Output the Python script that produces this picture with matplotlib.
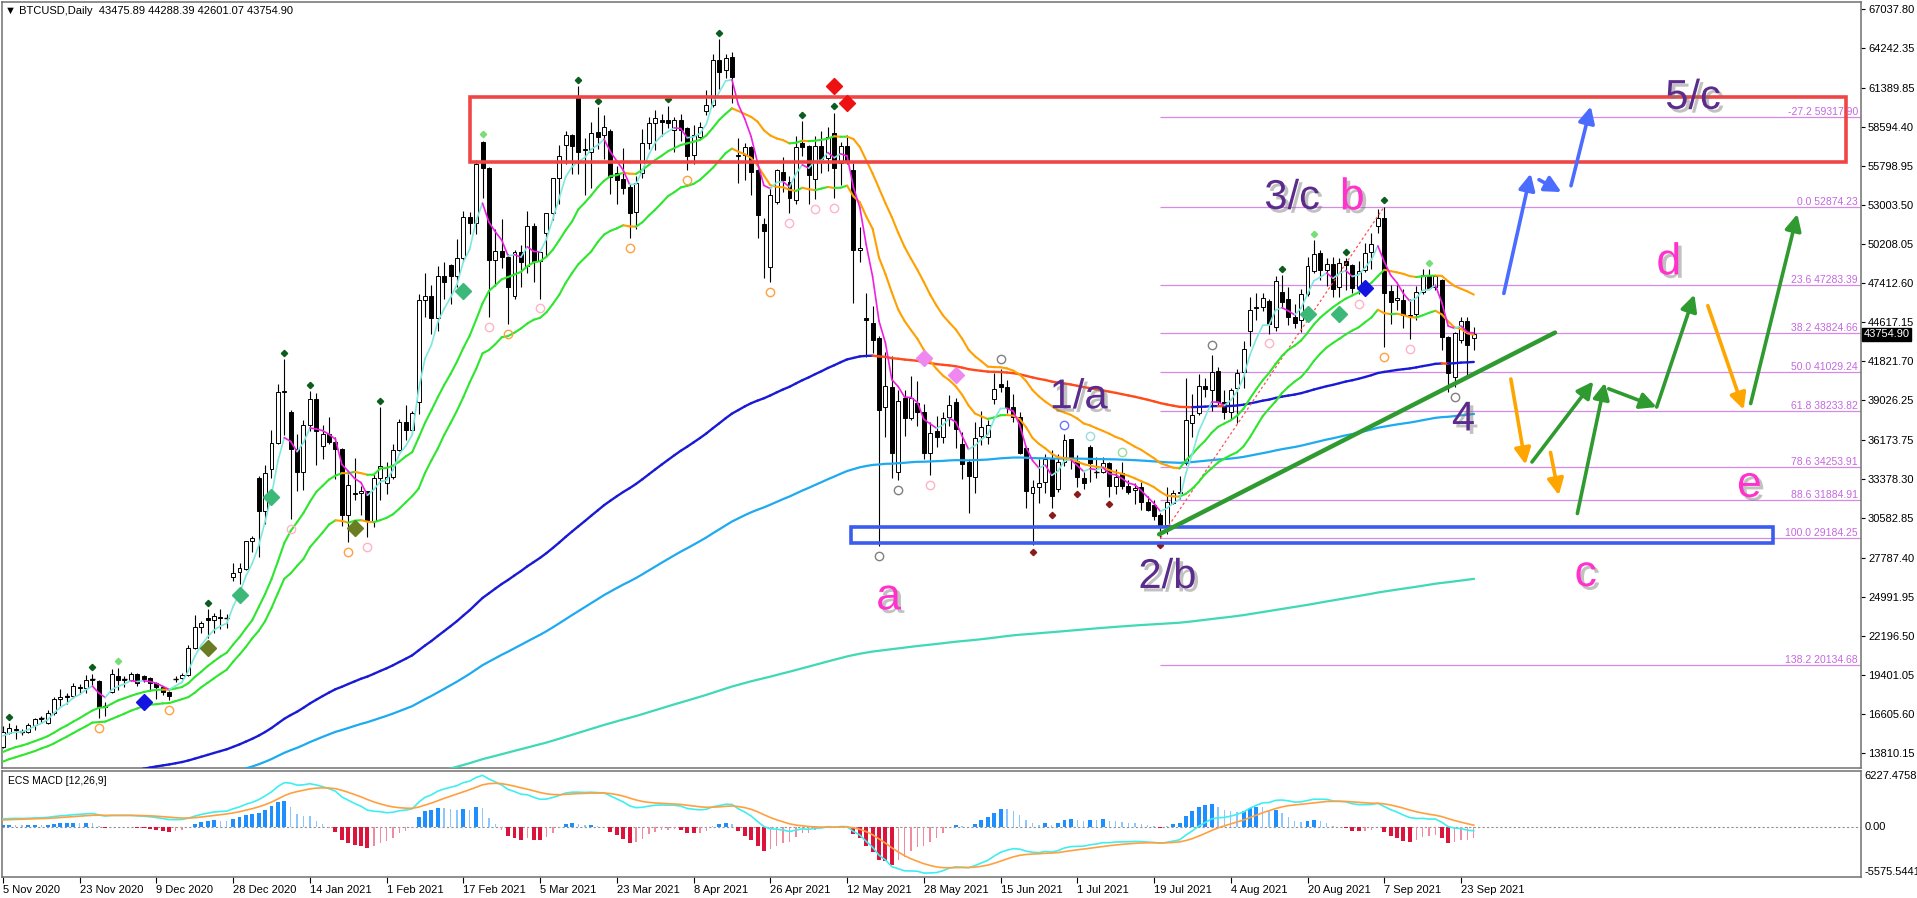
import numpy as np
import pandas as pd
import matplotlib
matplotlib.use('Agg')
import matplotlib.pyplot as plt
import matplotlib.patheffects as pe
import matplotlib.transforms as mtransforms
from matplotlib.collections import LineCollection
from matplotlib.patches import Rectangle

plt.rcParams['font.family'] = ['Liberation Sans', 'DejaVu Sans']

# daily bars (weekdays, broker feed), prices in thousands of USD
opens = [
    14.25, 15.25, 15.55, 15.40, 15.35, 15.80, 16.25, 15.95, 16.70, 17.65, 17.85, 17.90, 18.55, 18.45, 19.05, 18.95, 17.10,
    18.15, 19.35, 19.05, 19.05, 19.45, 19.30, 19.15, 18.85, 18.55, 18.15, 19.10, 19.15, 19.40, 21.30, 22.80, 23.45, 23.30,
    23.55, 23.45, 26.40, 26.75, 27.00, 28.95,
    33.50, 31.10, 34.10, 36.00, 39.60, 38.20, 35.55, 33.90, 37.30, 39.15, 35.79, 36.63, 36.07, 35.55, 30.83, 32.30, 32.40,
    32.56, 30.43, 33.47,
    33.11, 33.54, 35.51, 37.47, 36.93, 38.90, 46.20, 46.48, 44.92, 47.91, 48.72, 47.95, 49.20, 52.15, 51.68, 57.49, 55.65,
    49.05, 49.70, 49.30,
    46.50, 49.63, 48.60, 51.50, 49.00, 51.00, 52.40, 54.90, 57.30, 58.00, 60.70, 56.90, 56.80, 58.20, 58.00, 58.30, 55.30,
    54.85, 54.27, 52.48, 55.26, 57.40, 58.85,
    59.10, 59.10, 58.35, 59.05, 58.50, 56.57, 57.86, 59.70, 60.14, 63.36, 62.64, 63.57, 56.50, 56.57, 57.14, 55.50, 51.64,
    48.56, 53.21, 55.35, 54.64, 53.35,
    57.43, 57.20, 54.85, 57.20, 56.35, 58.14, 56.00, 57.20, 55.50, 49.78, 44.90, 44.55, 43.48, 38.54, 40.00, 33.90, 39.19,
    37.76, 38.83, 38.19, 35.26,
    36.83, 36.40, 37.83, 38.90, 35.90, 34.61, 33.54, 36.47, 36.40, 39.12, 40.20, 40.00, 38.54, 37.83, 35.61, 32.40, 32.83,
    33.18, 34.83, 32.69, 34.61, 36.26,
    34.68, 33.47, 35.68, 33.90, 33.90, 34.54, 32.90, 33.83, 32.90, 32.60, 32.82, 31.75, 31.54, 30.82, 30.10, 31.68, 32.39,
    34.54, 37.40, 38.12, 40.05, 39.75,
    41.12, 38.90, 38.19, 39.90, 41.05, 44.00, 45.60, 45.70, 46.12, 44.27, 46.76, 46.26, 44.97, 44.76, 46.62, 48.26, 49.55,
    48.33, 48.76, 47.12, 48.98, 48.69,
    47.12, 48.33, 49.62, 51.48, 52.05, 46.83, 46.20, 46.19, 45.10, 45.19, 46.76, 47.98, 47.12, 47.62, 43.55, 40.70, 43.34,
    44.70, 43.47589,
]
highs = [
    15.75, 15.96, 15.83, 15.50, 15.95, 16.34, 16.48, 16.88, 17.80, 18.39, 18.12, 18.80, 18.77, 19.41, 19.48, 19.00, 17.45,
    19.85, 19.92, 19.32, 19.58, 19.51, 19.42, 19.28, 18.90, 18.56, 18.27, 19.30, 19.56, 21.54, 23.70, 23.27, 24.10, 23.82,
    24.08, 23.78, 27.40, 27.38, 28.94, 29.30,
    33.60, 34.44, 36.88, 40.18, 41.95, 38.35, 36.60, 37.60, 39.70, 39.58, 37.30, 37.85, 36.41, 35.60, 33.79, 34.88, 32.90,
    32.56, 33.78, 38.53,
    34.64, 35.90, 37.66, 38.70, 38.30, 46.60, 48.10, 47.30, 48.60, 48.90, 48.80, 50.55, 52.60, 52.50, 56.20, 57.60, 55.70,
    51.30, 52.00, 49.50,
    49.80, 50.10, 52.60, 51.70, 49.80, 52.40, 54.90, 57.30, 58.30, 58.10, 61.50, 57.80, 58.90, 60.00, 59.40, 58.40, 55.80,
    57.10, 54.50, 55.10, 58.40, 59.30, 59.80,
    59.50, 60.10, 59.30, 59.50, 58.60, 58.70, 58.90, 61.20, 63.80, 64.85, 63.80, 63.90, 57.80, 57.40, 57.20, 55.60, 52.10,
    54.30, 55.60, 56.40, 55.10, 57.90,
    59.00, 57.30, 57.90, 58.30, 58.60, 59.60, 57.50, 58.00, 56.00, 51.40, 46.70, 45.80, 43.60, 42.50, 42.20, 39.80, 39.80,
    40.80, 40.40, 38.80, 37.50,
    37.90, 38.20, 39.40, 39.20, 36.80, 34.80, 37.50, 38.30, 37.60, 41.00, 41.30, 40.50, 39.50, 38.20, 35.70, 33.30, 34.80,
    35.20, 35.50, 35.20, 36.60, 36.30,
    35.10, 33.90, 35.80, 35.00, 35.00, 34.60, 34.10, 34.60, 33.30, 33.10, 33.20, 32.20, 31.90, 31.00, 32.80, 32.60, 33.60,
    40.62, 39.50, 40.90, 40.60, 42.30,
    41.40, 39.80, 39.90, 41.30, 43.30, 46.40, 46.70, 46.70, 46.30, 47.90, 48.00, 47.10, 45.90, 47.00, 49.30, 50.50, 49.80,
    49.20, 49.30, 49.20, 49.20, 48.80,
    49.00, 50.30, 51.00, 52.70, 52.87423, 47.30, 47.30, 47.00, 46.30, 47.20, 48.40, 48.40, 48.00, 47.70, 43.60, 43.90, 45.00,
    45.00, 44.28839,
]
lows = [
    14.15, 15.20, 14.85, 15.10, 15.28, 15.44, 15.99, 15.88, 16.56, 17.21, 17.35, 17.76, 18.00, 18.13, 18.60, 16.33, 16.45,
    18.10, 18.33, 18.53, 18.93, 18.62, 18.90, 18.26, 17.65, 17.93, 17.61, 18.90, 19.08, 19.29, 21.24, 22.36, 22.02, 22.38,
    22.67, 22.76, 26.10, 25.93, 26.90, 28.21,
    27.80, 30.22, 33.50, 35.90, 36.57, 30.55, 32.53, 32.60, 36.82, 34.40, 34.85, 35.90, 33.40, 30.07, 28.90, 31.90, 30.84,
    29.24, 29.98, 31.90,
    32.30, 33.42, 35.38, 36.16, 36.60, 38.05, 45.00, 43.80, 44.00, 46.30, 45.90, 47.10, 49.00, 50.90, 50.90, 53.50, 45.00,
    47.20, 48.50, 44.50,
    46.30, 47.10, 48.10, 47.50, 46.30, 49.30, 51.90, 53.10, 55.90, 55.20, 55.20, 53.70, 54.20, 57.00, 56.30, 53.80, 53.10,
    53.80, 50.60, 51.30, 54.90, 57.00, 56.90,
    57.90, 58.50, 56.80, 57.60, 55.50, 55.90, 57.70, 59.40, 60.00, 61.30, 62.10, 60.30, 54.60, 54.80, 53.70, 50.60, 47.80,
    47.50, 53.10, 53.90, 52.40, 53.10,
    56.50, 53.10, 53.40, 55.30, 55.40, 53.50, 54.40, 55.90, 46.00, 48.90, 42.10, 42.40, 28.60, 36.40, 33.50, 33.30, 36.50,
    37.60, 37.20, 34.80, 33.70,
    35.70, 36.00, 37.20, 35.60, 33.40, 31.00, 32.40, 35.80, 35.90, 38.80, 39.60, 38.10, 37.50, 35.20, 31.30, 28.70, 31.70,
    32.40, 31.30, 32.50, 34.30, 34.10,
    32.80, 32.70, 33.20, 33.50, 33.80, 32.10, 32.30, 32.70, 32.30, 31.60, 31.20, 31.10, 30.50, 29.18425, 29.50, 31.60, 32.00,
    34.40, 36.40, 38.00, 39.30, 38.30,
    38.70, 37.70, 37.60, 37.40, 39.90, 42.90, 44.80, 45.40, 43.80, 44.00, 45.60, 44.40, 44.20, 43.90, 46.50, 48.10, 47.60,
    47.20, 46.40, 46.40, 46.90, 46.70,
    46.60, 48.20, 48.40, 51.00, 42.84, 44.50, 45.50, 44.20, 43.40, 44.80, 46.60, 47.10, 46.90, 42.60, 39.60, 40.00, 43.10,
    40.69, 42.60107,
]
closes = [
    15.30, 15.62, 15.45, 15.35, 15.85, 16.25, 16.30, 16.70, 17.70, 17.85, 17.90, 18.60, 18.45, 19.05, 19.10, 17.10, 17.15,
    19.45, 19.05, 19.10, 19.45, 18.80, 19.10, 18.80, 18.55, 18.15, 17.90, 19.12, 19.40, 21.30, 22.80, 23.10, 23.30, 23.60,
    23.45, 23.47, 26.70, 27.05, 29.00, 29.20,
    31.15, 33.80, 36.00, 39.60, 39.70, 35.55, 33.90, 37.30, 39.15, 36.83, 36.63, 36.07, 35.55, 30.83, 33.00, 32.40, 32.56,
    30.43, 33.47, 34.32,
    33.54, 35.51, 37.47, 36.93, 38.14, 46.20, 46.48, 44.92, 47.91, 47.50, 47.95, 49.20, 52.15, 51.68, 55.90, 55.65, 49.05,
    49.70, 49.30, 47.10,
    49.63, 48.90, 51.50, 49.00, 49.60, 52.40, 54.90, 56.50, 58.00, 57.20, 56.80, 57.00, 58.15, 57.85, 58.56, 55.00, 54.80,
    54.20, 52.40, 54.56, 57.40, 58.85, 59.20,
    58.90, 58.85, 59.05, 58.35, 56.50, 58.00, 58.57, 60.14, 63.36, 62.50, 63.50, 62.14, 56.60, 57.14, 55.35, 52.28, 51.14,
    53.71, 55.50, 54.78, 53.50, 57.14,
    57.14, 55.14, 57.20, 56.28, 57.85, 55.64, 57.20, 56.21, 49.78, 49.90, 44.80, 43.33, 38.33, 40.04, 35.26, 39.00, 37.76,
    39.19, 38.19, 35.26, 36.69,
    36.40, 37.76, 38.69, 36.97, 34.47, 33.61, 36.33, 37.11, 37.26, 39.86, 40.00, 38.47, 37.83, 35.26, 32.54, 32.83, 33.10,
    34.83, 32.18, 34.61, 36.19, 34.90,
    33.54, 33.11, 34.54, 33.92, 34.54, 32.90, 33.54, 32.90, 32.47, 32.75, 31.75, 31.18, 30.75, 29.96, 31.75, 32.39, 32.50,
    37.62, 37.98, 40.05, 39.85, 41.05,
    38.90, 38.19, 39.75, 40.98, 42.70, 45.48, 45.70, 46.33, 44.48, 47.55, 46.04, 44.97, 44.55, 46.62, 48.62, 49.48, 48.33,
    48.76, 46.98, 48.83, 48.69, 47.05,
    48.26, 49.55, 50.19, 52.05, 46.69, 46.05, 46.33, 45.12, 45.05, 46.76, 47.98, 47.05, 47.90, 43.55, 40.98, 43.84, 44.70,
    42.98, 43.7549,
]

o = np.array(opens) * 1000
h = np.array(highs) * 1000
l = np.array(lows) * 1000
c = np.array(closes) * 1000
n = len(c)
x = np.arange(n)

dates = pd.bdate_range('2020-11-05', '2021-09-27')
dates = dates[~dates.isin(pd.to_datetime(['2020-12-25', '2021-01-01']))]

# price scale labels on the right
price_ticks = [67037.80, 64242.35, 61389.85, 58594.40, 55798.95, 53003.50, 50208.05, 47412.60, 44617.15,
               41821.70, 39026.25, 36173.75, 33378.30, 30582.85, 27787.40, 24991.95, 22196.50, 19401.05,
               16605.60, 13810.15]

# fibonacci levels (Jul 20 low -> Sep 7 high)
fib_pct = ['-27.2', '0.0', '23.6', '38.2', '50.0', '61.8', '78.6', '88.6', '100.0', '138.2']
fib_price = [59317.90, 52874.23, 47283.39, 43824.66, 41029.24, 38233.82, 34253.91, 31884.91, 29184.25, 20134.68]

# signal markers from the chart's indicators (bar indexes)
hi_dot_dark = [1, 14, 32, 44, 48, 59, 90, 93, 104, 112, 125, 130, 200, 210, 216]
hi_dot_light = [18, 75, 205, 223]
lo_ring_orange = [15, 26, 54, 79, 98, 107, 120, 216]
lo_ring_pink = [45, 57, 76, 84, 123, 127, 130, 145, 198, 212, 220]
lo_ring_gray = [137, 140, 227]
hi_ring_gray = [156, 189]
hi_ring_blue = [166]
hi_ring_cyan = [170]
hi_ring_green = [175]
lo_dot_red = [161, 164, 168, 173, 181]
big_dia_bars = [22, 213, 32, 55, 37, 42, 72, 204, 209, 144, 149, 130, 132]
big_dia_price = [17450, 47050, 21340, 29900, 25090, 32110, 46840, 45200, 45200, 42060, 40850, 61490, 60270]
big_dia_color = ['#1414e0', '#1414e0', '#6b7d23', '#6b7d23', '#3cb878', '#3cb878', '#3cb878', '#3cb878',
                 '#3cb878', '#ee88ee', '#ee88ee', '#ee1111', '#ee1111']

# wave labels and drawn arrows (bar, price)
purple_labels = [('5/c', 264.3, 60660), ('3/c', 201.6, 53500), ('1/a', 168.2, 39250),
                 ('2/b', 182.1, 26400), ('4', 228.4, 37660)]
pink_labels = [('b', 211.0, 53500), ('a', 138.5, 24910), ('d', 260.5, 48860),
               ('c', 247.5, 26570), ('e', 273.1, 32950)]
blue_arrows = [(234.7, 46674, 238.9, 55240), (240.2, 54805, 243.7, 53920), (245.2, 54370, 248.3, 60045)]
orange_arrows = [(235.8, 40555, 238.1, 34434), (242.0, 35306, 243.3, 32245), (266.6, 45795, 272.2, 38365)]
green_arrows = [(239.1, 34620, 248.7, 40383), (246.2, 30937, 250.5, 40290), (251.1, 39854, 258.6, 38550),
                (258.6, 38550, 264.5, 46590), (273.3, 38800, 280.6, 52350)]


def ema(values, period, seed):
    a = 2.0 / (period + 1)
    out = []
    e = seed
    for v in values:
        e = e + a * (v - e)
        out.append(e)
    return np.array(out)


def slope_line(axis, xs, ys, up, down, lw, z):
    pts = np.column_stack([xs, ys])
    segs = np.stack([pts[:-1], pts[1:]], axis=1)
    cols = [up if ys[i + 1] >= ys[i] else down for i in range(len(ys) - 1)]
    axis.add_collection(LineCollection(segs, colors=cols, linewidths=lw, zorder=z, capstyle='round'))


W, H = 1917, 898
fig = plt.figure(figsize=(W / 100, H / 100), dpi=100)
ax = fig.add_axes([2 / W, 1 - 768 / H, 1859 / W, 766 / H])
axm = fig.add_axes([2 / W, 1 - 877 / H, 1859 / W, 106 / H])

xmin, xmax = -0.14, 290.55
ax.set_xlim(xmin, xmax)
ax.set_ylim(12742, 67509)
axm.set_xlim(xmin, xmax)
axm.set_ylim(-5575.5441, 6227.4758)

# candles
ax.vlines(x, l, h, color='black', lw=0.8, zorder=2)
body_lo = np.minimum(o, c)
body_hi = np.maximum(o, c)
up = c >= o
ax.bar(x[up], (body_hi - body_lo)[up], bottom=body_lo[up], width=0.62, color='white',
       edgecolor='black', linewidth=0.7, zorder=3)
ax.bar(x[~up], (body_hi - body_lo)[~up], bottom=body_lo[~up], width=0.62, color='black',
       edgecolor='black', linewidth=0.7, zorder=3)
doji = (body_hi - body_lo) < 90
ax.hlines(c[doji], x[doji] - 0.35, x[doji] + 0.35, color='black', lw=1.0, zorder=3)

# moving averages
fast = ema(c, 5, 14900)
ch_hi = ema(h, 21, 13700)
ch_lo = ema(l, 21, 13100)
ma144 = ema(c, 144, 10800)
ma233 = ema(c, 233, 9900)
ma600 = ema(c, 600, 8600)

ax.plot(x, ma600, color='#3fd9b5', lw=1.6, zorder=4)
ax.plot(x, ma233, color='#1eaaf0', lw=1.6, zorder=4)
slope_line(ax, x, ma144, '#1a1ad6', '#ff4a1a', 1.7, 4)
slope_line(ax, x, ch_lo, '#2ee62e', '#ffa000', 1.5, 5)
slope_line(ax, x, ch_hi, '#2ee62e', '#ffa000', 1.5, 5)
slope_line(ax, x, fast, '#7fe8dc', '#f01fe0', 1.2, 5)

# markers
ax.plot(hi_dot_dark, h[hi_dot_dark] + 450, 'D', ms=3.2, color='#0b5d1e', zorder=6)
ax.plot(hi_dot_light, h[hi_dot_light] + 450, 'D', ms=3.2, color='#77dd77', zorder=6)
ax.plot(lo_dot_red, l[lo_dot_red] - 500, 'D', ms=3.2, color='#8b1a1a', zorder=6)
for bars, yy, col in [(lo_ring_orange, l[lo_ring_orange] - 700, '#ffa040'),
                      (lo_ring_pink, l[lo_ring_pink] - 700, '#ffb3c6'),
                      (lo_ring_gray, l[lo_ring_gray] - 700, '#808080'),
                      (hi_ring_gray, h[hi_ring_gray] + 700, '#808080'),
                      (hi_ring_blue, h[hi_ring_blue] + 700, '#6677ff'),
                      (hi_ring_cyan, h[hi_ring_cyan] + 700, '#99dddd'),
                      (hi_ring_green, h[hi_ring_green] + 700, '#99dd99')]:
    ax.plot(bars, yy, 'o', ms=6, mfc='none', mec=col, mew=1.0, zorder=6)
for b, p, col in zip(big_dia_bars, big_dia_price, big_dia_color):
    ax.plot(b, p, 'D', ms=8, color=col, zorder=7)

# fibonacci retracement
ax.plot([181, 216], [fib_price[8], fib_price[1]], color='#ff5050', lw=0.9, ls=(0, (2, 2)), zorder=4)
for pct, pr in zip(fib_pct, fib_price):
    ax.hlines(pr, 181, xmax, color='#d58ae8', lw=0.9, zorder=1)
    ax.text(xmax - 0.5, pr, f'{pct} {pr:.2f}', ha='right', va='bottom', fontsize=7.5, color='#c468e0', zorder=8)

# zones and trendline
ax.add_patch(Rectangle((73.0, 56050), 288.2 - 73.0, 60750 - 56050, fill=False, ec='#f04545', lw=2.6, zorder=6))
ax.add_patch(Rectangle((132.6, 28820), 276.8 - 132.6, 29964 - 28820, fill=False, ec='#3a5cf0', lw=2.6, zorder=6))
ax.plot([180.8, 242.7], [29450, 43872], color='#2f9a2f', lw=3.2, solid_capstyle='round', zorder=6)

for arrows, col in [(blue_arrows, '#4a6cff'), (orange_arrows, '#ffa500'), (green_arrows, '#2f9a2f')]:
    for x0, y0, x1, y1 in arrows:
        ax.annotate('', xy=(x1, y1), xytext=(x0, y0),
                    arrowprops=dict(arrowstyle='-|>,head_length=0.7,head_width=0.35', color=col, lw=2.6,
                                    shrinkA=0, shrinkB=0, mutation_scale=14), zorder=8)

shadow = [pe.withSimplePatchShadow(offset=(2.5, -2.5), shadow_rgbFace='#777777', alpha=0.45)]
for txt, bx, py in purple_labels:
    ax.text(bx, py, txt, fontsize=30, color='#5b2c8c', ha='center', va='center', zorder=9, path_effects=shadow)
for txt, bx, py in pink_labels:
    ax.text(bx, py, txt, fontsize=32, color='#ff33cc', ha='center', va='center', zorder=9, path_effects=shadow)

# MACD (histogram drawn as doubled OsMA)
ema12 = ema(c, 12, 14000)
ema26 = ema(c, 26, 13150)
macd = ema12 - ema26
signal = ema(macd, 9, 750)
hist = 2 * (macd - signal)
for i in range(n):
    grow = i == 0 or abs(hist[i]) >= abs(hist[i - 1])
    if hist[i] >= 0:
        col = '#1e8fff' if grow else '#8cc6ff'
    else:
        col = '#dc143c' if grow else '#f08a9c'
    axm.bar(i, hist[i], width=0.62 if grow else 0.22, color=col, zorder=2)
axm.axhline(0, color='#909090', lw=0.8, ls=(0, (2, 2)), zorder=1)
axm.plot(x, macd, color='#40eef0', lw=1.2, zorder=3)
axm.plot(x, signal, color='#ffa040', lw=1.2, zorder=3)
axm.text(0.003, 0.95, 'ECS MACD [12,26,9]', transform=axm.transAxes, fontsize=7.5, va='top', ha='left')

# axes styling
for a in (ax, axm):
    for s in a.spines.values():
        s.set_color('#707070')
        s.set_linewidth(1.1)

ax.set_xticks([])
ax.yaxis.tick_right()
ax.set_yticks(price_ticks)
ax.set_yticklabels([f'{v:.2f}' for v in price_ticks])
ax.tick_params(axis='y', length=3, width=0.8, pad=2, labelsize=8, colors='black')

axm.set_yticks([])
trm = mtransforms.blended_transform_factory(axm.transAxes, axm.transData)
axm.text(1.002, 6227.4758, '6227.4758', transform=trm, fontsize=8, ha='left', va='top')
axm.text(1.002, 0, '0.00', transform=trm, fontsize=8, ha='left', va='center')
axm.text(1.002, -5575.5441, '-5575.5441', transform=trm, fontsize=8, ha='left', va='bottom')

tick_idx = list(range(0, n, 12))
axm.set_xticks(tick_idx)
axm.set_xticklabels([f"{dates[i].day} {dates[i].strftime('%b %Y')}" for i in tick_idx])
for lbl in axm.get_xticklabels():
    lbl.set_ha('left')
axm.tick_params(axis='x', length=4, width=0.8, pad=2, labelsize=8)

tr = mtransforms.blended_transform_factory(ax.transAxes, ax.transData)
ax.text(1.0015, c[-1], f'{c[-1]:.2f}', transform=tr, ha='left', va='center', color='white', fontsize=8,
        zorder=10, bbox=dict(boxstyle='square,pad=0.15', fc='black', ec='black'))

fig.text(5 / W, 1 - 11 / H, '\u25bc BTCUSD,Daily  43475.89 44288.39 42601.07 43754.90', fontsize=8,
         va='center', ha='left')

fig.savefig('out.png', dpi=100, facecolor='white')
